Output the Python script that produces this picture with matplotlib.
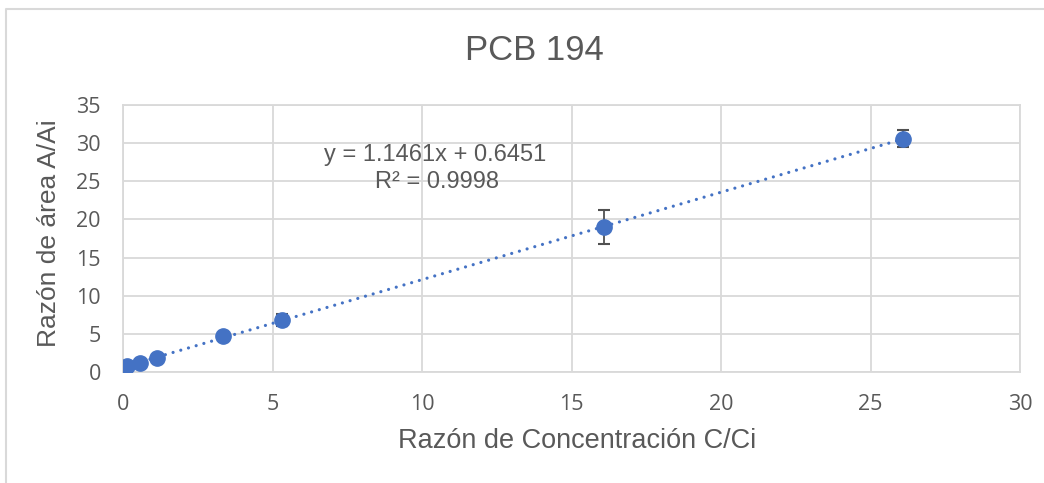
import numpy as np
import matplotlib
matplotlib.use("Agg")
import matplotlib.pyplot as plt
from matplotlib.lines import Line2D

# ---- data ----
conc_ratio = [0.13, 0.57, 1.14, 3.34, 5.32, 16.1, 26.1]
area_ratio = [0.8, 1.2, 1.8, 4.7, 6.8, 19.0, 30.6]
area_err = [0.1, 0.1, 0.15, 0.3, 0.8, 2.25, 1.15]
slope = 1.1461
intercept = 0.6451
r2 = 0.9998
x_ticks = [0, 5, 10, 15, 20, 25, 30]
y_ticks = [0, 5, 10, 15, 20, 25, 30, 35]
title = "PCB 194"
x_label = "Razón de Concentración C/Ci"
y_label = "Razón de área A/Ai"

W, H = 1044, 483
fig = plt.figure(figsize=(W / 100, H / 100), dpi=100)
ax = fig.add_axes([123 / W, 1 - 372 / H, (1020 - 123) / W, (372 - 105) / H])

blue = "#4472C4"
txt = "#595959"
grid = "#d9d9d9"

# trendline
xs = np.array([min(conc_ratio), max(conc_ratio)])
ax.plot(xs, slope * xs + intercept, color=blue, lw=2.3,
        linestyle=(0, (0.01, 2.5)), dash_capstyle="round", zorder=3)

ax.errorbar(conc_ratio, area_ratio, yerr=area_err, fmt="none",
            ecolor="#505050", elinewidth=1.3, capsize=4.3, capthick=1.5, zorder=4)
ax.plot(conc_ratio, area_ratio, "o", color=blue, ms=11, mec=blue, zorder=5)

ax.set_xlim(0, 30)
ax.set_ylim(0, 35)
ax.set_xticks(x_ticks)
ax.set_yticks(y_ticks)
ax.grid(True, color=grid, lw=1.3)
ax.set_axisbelow(True)
for s in ax.spines.values():
    s.set_color(grid)
    s.set_linewidth(1.3)
ax.tick_params(length=0, labelsize=15.5, labelcolor=txt)
ax.tick_params(axis="x", pad=16)
ax.tick_params(axis="y", pad=16)
for lab in ax.get_xticklabels() + ax.get_yticklabels():
    lab.set_fontfamily("Open Sans")

ax.text(10.45, 28.4, f"y = {slope:.4f}x + {intercept:.4f}", ha="center", va="center",
        fontsize=17, color=txt, family="Liberation Sans", zorder=6)
ax.text(10.5, 24.9, f"R² = {r2:.4f}", ha="center", va="center",
        fontsize=17, color=txt, family="Liberation Sans", zorder=6)

fig.text(534 / W, 1 - 50.5 / H, title, ha="center", va="center", fontsize=25,
         color=txt, family="Liberation Sans")
fig.text(577 / W, 1 - 441 / H, x_label, ha="center", va="center", fontsize=19.5,
         color=txt, family="Liberation Sans")
fig.text(49 / W, 1 - 233 / H, y_label, ha="center", va="center", fontsize=19,
         color=txt, family="Liberation Sans", rotation=90)

# chart frame
fig.add_artist(Line2D([5.5 / W, 5.5 / W, 1.0], [0.0, 1 - 8.5 / H, 1 - 8.5 / H],
                      transform=fig.transFigure, color="#d9d9d9", lw=1.5))

fig.savefig("out.png", dpi=100)
